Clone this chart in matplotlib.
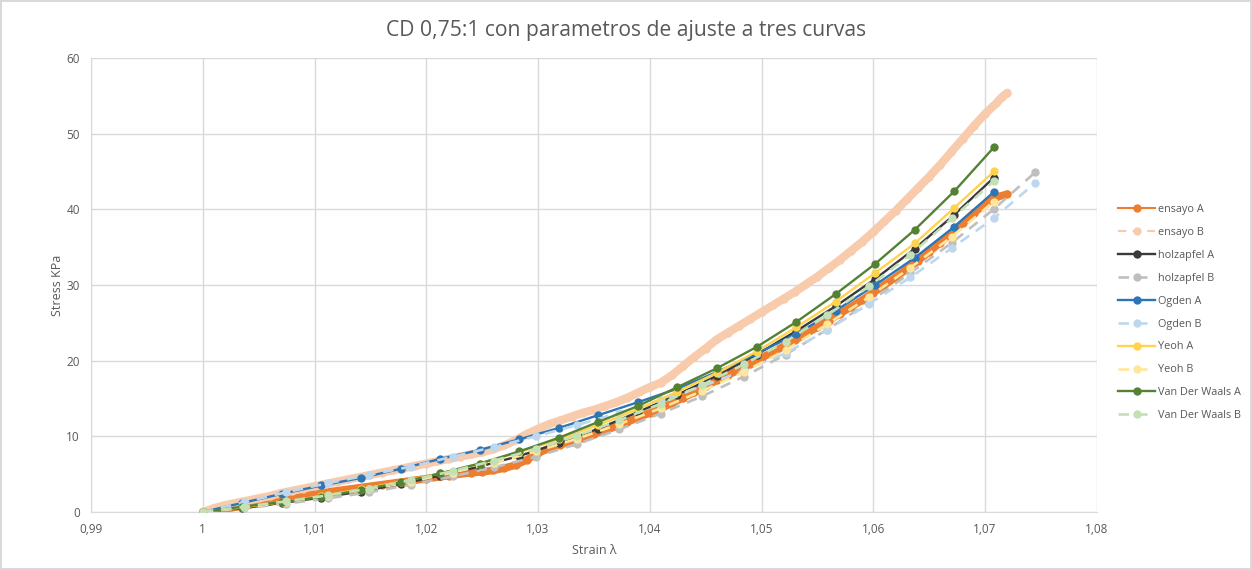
import numpy as np
import matplotlib
matplotlib.use("Agg")
import matplotlib.pyplot as plt
from matplotlib.ticker import FuncFormatter, MultipleLocator

plt.rcParams['font.family'] = ['Open Sans', 'DejaVu Sans']

# experimental curves (dense)
ensayo_a_x = [1.000, 1.002, 1.004, 1.006, 1.008, 1.010, 1.012, 1.014, 1.016, 1.018,
              1.020, 1.022, 1.024, 1.025, 1.026, 1.027, 1.028, 1.029, 1.030, 1.031,
              1.032, 1.033, 1.034, 1.035, 1.036, 1.037, 1.038, 1.039, 1.040, 1.041,
              1.042, 1.043, 1.044, 1.045, 1.046, 1.047, 1.048, 1.049, 1.050, 1.051,
              1.052, 1.053, 1.054, 1.055, 1.056, 1.057, 1.058, 1.059, 1.060, 1.061,
              1.062, 1.063, 1.064, 1.065, 1.066, 1.067, 1.068, 1.069, 1.070, 1.071, 1.072]
ensayo_a_y = [0.0, 0.4, 0.9, 1.4, 1.9, 2.4, 2.8, 3.2, 3.6, 4.0,
              4.4, 4.8, 5.2, 5.3, 5.5, 5.8, 6.2, 6.9, 7.8, 8.4,
              8.9, 9.3, 9.8, 10.3, 10.8, 11.3, 11.9, 12.5, 13.1, 13.7,
              14.4, 15.1, 15.8, 16.6, 17.4, 18.1, 18.8, 19.6, 20.4, 21.1,
              21.9, 22.7, 23.6, 24.4, 25.3, 26.2, 27.1, 28.0, 29.0, 30.0,
              31.0, 32.1, 33.2, 34.4, 35.6, 36.9, 38.2, 39.5, 40.7, 41.6, 42.0]

ensayo_b_x = [1.000, 1.001, 1.002, 1.003, 1.004, 1.005, 1.006, 1.007, 1.008, 1.009,
              1.010, 1.011, 1.012, 1.013, 1.014, 1.015, 1.016, 1.017, 1.018, 1.019,
              1.020, 1.021, 1.022, 1.023, 1.024, 1.025, 1.026, 1.027, 1.028, 1.029,
              1.030, 1.031, 1.032, 1.033, 1.034, 1.035, 1.036, 1.037, 1.038, 1.039,
              1.040, 1.041, 1.042, 1.043, 1.044, 1.045, 1.046, 1.047, 1.048, 1.049,
              1.050, 1.051, 1.052, 1.053, 1.054, 1.055, 1.056, 1.057, 1.058, 1.059,
              1.060, 1.061, 1.062, 1.063, 1.064, 1.065, 1.066, 1.067, 1.068, 1.069,
              1.070, 1.071, 1.0715, 1.072]
ensayo_b_y = [0.0, 0.5, 0.9, 1.2, 1.5, 1.8, 2.1, 2.5, 2.8, 3.1,
              3.4, 3.7, 4.0, 4.3, 4.6, 4.9, 5.2, 5.5, 5.8, 6.1,
              6.4, 6.7, 7.0, 7.3, 7.6, 7.9, 8.3, 8.8, 9.5, 10.3,
              11.0, 11.6, 12.1, 12.6, 13.1, 13.5, 14.0, 14.5, 15.1, 15.8,
              16.5, 17.1, 18.1, 19.3, 20.5, 21.6, 22.8, 23.7, 24.6, 25.5,
              26.4, 27.3, 28.2, 29.1, 30.1, 31.1, 32.2, 33.3, 34.5, 35.7,
              37.0, 38.4, 39.8, 41.3, 42.8, 44.3, 45.9, 47.6, 49.3, 51.0,
              52.6, 54.0, 54.8, 55.4]

# fitted models, set A
model_a_x = [1.0000, 1.00354, 1.00708, 1.01062, 1.01416, 1.0177, 1.02124, 1.02478,
             1.02832, 1.03186, 1.0354, 1.03894, 1.04248, 1.04602, 1.04956, 1.0531,
             1.05664, 1.06018, 1.06372, 1.06726, 1.0708]
holz_a = [0, 0.5, 1.2, 1.9, 2.7, 3.7, 4.8, 6.0, 7.4, 9.1, 11.0, 13.2, 15.5, 18.0,
          20.8, 23.9, 27.2, 30.8, 34.8, 39.3, 44.2]
ogden_a = [0, 1.2, 2.4, 3.5, 4.5, 5.7, 7.0, 8.2, 9.6, 11.1, 12.8, 14.5, 16.3, 18.5,
           20.9, 23.5, 26.6, 30.0, 33.6, 37.7, 42.3]
yeoh_a = [0, 0.6, 1.3, 2.1, 3.0, 4.0, 5.1, 6.4, 7.9, 9.6, 11.5, 13.6, 15.9, 18.4,
          21.2, 24.4, 27.8, 31.6, 35.5, 40.2, 45.0]
vdw_a = [0, 0.7, 1.3, 2.0, 2.9, 3.9, 5.1, 6.4, 8.0, 9.8, 11.9, 14.0, 16.5, 19.0,
         21.8, 25.1, 28.8, 32.8, 37.3, 42.4, 48.2]

# fitted models, set B
model_b_x = [1.0, 1.003725, 1.00745, 1.011175, 1.0149, 1.018625, 1.02235, 1.026075,
             1.0298, 1.033525, 1.03725, 1.040975, 1.0447, 1.048425, 1.05215, 1.055875,
             1.0596, 1.063325, 1.06705, 1.070775, 1.0745]
holz_b = [0, 0.5, 1.1, 1.8, 2.6, 3.6, 4.7, 5.9, 7.3, 9.0, 10.9, 13.0, 15.3, 17.9,
          20.8, 24.1, 27.7, 31.6, 35.6, 40.0, 44.9]
ogden_b = [0, 1.3, 2.6, 3.8, 4.9, 6.0, 7.3, 8.6, 10.0, 11.5, 13.1, 14.8, 16.6, 18.7,
           21.0, 24.0, 27.5, 31.0, 34.9, 38.8, 43.5]
yeoh_b = [0, 0.6, 1.3, 2.1, 3.0, 4.0, 5.2, 6.5, 8.0, 9.7, 11.6, 13.7, 16.0, 18.5,
          21.4, 24.8, 28.4, 32.3, 36.4, 41.0]
vdw_b = [0, 0.7, 1.4, 2.2, 3.1, 4.2, 5.4, 6.8, 8.3, 10.1, 12.1, 14.3, 16.8, 19.5,
         22.5, 26.0, 29.8, 34.0, 38.8, 43.7]

fig = plt.figure(figsize=(12.52, 5.70), dpi=100)
fig.patch.set_edgecolor('#D9D9D9')
fig.patch.set_linewidth(1.5)
ax = fig.add_axes([0.0727, 0.1018, 0.8033, 0.7965])

# ensayo curves: thick band under the markers
ax.plot(ensayo_a_x, ensayo_a_y, color='#ED7D31', lw=5.5, solid_capstyle='round', zorder=2)
ax.plot(ensayo_a_x, ensayo_a_y, color='#ED7D31', lw=1.5, marker='o', ms=6,
        mec='none', label='ensayo A', zorder=2)
ax.plot(ensayo_b_x, ensayo_b_y, color='#F8CBAD', lw=6, solid_capstyle='round', zorder=2)
ax.plot(ensayo_b_x, ensayo_b_y, color='#F8CBAD', lw=1.5, ls=(0, (4, 3)), marker='o',
        ms=6, mec='none', label='ensayo B', zorder=2)

ms_m = 6
ax.plot(model_a_x, holz_a, color='#3A3A3A', lw=1.7, marker='o', ms=ms_m, mec='none',
        label='holzapfel A', zorder=3)
ax.plot(model_b_x, holz_b, color='#BFBFBF', lw=1.9, ls=(0, (4, 3)), marker='o', ms=ms_m,
        mec='none', label='holzapfel B', zorder=3)
ax.plot(model_a_x, ogden_a, color='#2E75B6', lw=1.7, marker='o', ms=ms_m, mec='none',
        label='Ogden A', zorder=3)
ax.plot(model_b_x, ogden_b, color='#BDD7EE', lw=1.9, ls=(0, (4, 3)), marker='o', ms=ms_m,
        mec='none', label='Ogden B', zorder=3)
ax.plot(model_a_x, yeoh_a, color='#FFD34D', lw=1.7, marker='o', ms=ms_m, mec='none',
        label='Yeoh A', zorder=3)
ax.plot(model_b_x[:len(yeoh_b)], yeoh_b, color='#FFE699', lw=1.9, ls=(0, (4, 3)),
        marker='o', ms=ms_m, mec='none', label='Yeoh B', zorder=3)
ax.plot(model_a_x, vdw_a, color='#548235', lw=1.7, marker='o', ms=ms_m, mec='none',
        label='Van Der Waals A', zorder=3)
ax.plot(model_b_x[:len(vdw_b)], vdw_b, color='#C5E0B4', lw=1.9, ls=(0, (4, 3)),
        marker='o', ms=ms_m, mec='none', label='Van Der Waals B', zorder=3)

ax.set_xlim(0.99, 1.08)
ax.set_ylim(0, 60)
ax.xaxis.set_major_locator(MultipleLocator(0.01))
ax.yaxis.set_major_locator(MultipleLocator(10))


def comma_fmt(v, pos):
    s = f"{v:.2f}".rstrip('0').rstrip('.')
    return s.replace('.', ',')


ax.xaxis.set_major_formatter(FuncFormatter(comma_fmt))
ax.yaxis.set_major_formatter(FuncFormatter(lambda v, p: f"{v:.0f}"))
ax.grid(True, color='#D9D9D9', lw=1)
ax.set_axisbelow(True)
for s in ax.spines.values():
    s.set_color('#D9D9D9')
ax.spines['top'].set_visible(False)
ax.spines['right'].set_visible(False)
ax.tick_params(length=0, labelsize=8.5, labelcolor='#595959', pad=8)

ax.set_xlabel('Strain λ', fontsize=9, color='#595959', labelpad=6)
ax.set_ylabel('Stress KPa', fontsize=9, color='#595959', labelpad=2)
fig.suptitle('CD 0,75:1 con parametros de ajuste a tres curvas', fontsize=15.2,
             color='#595959', y=0.946, va='center')

ax.legend(loc='upper left', bbox_to_anchor=(1.017, 0.688), frameon=False,
          fontsize=7.8, labelcolor='#595959', handlelength=3.4, labelspacing=1.1,
          handletextpad=0.3, borderaxespad=0)

fig.savefig('out.png', dpi=100)
